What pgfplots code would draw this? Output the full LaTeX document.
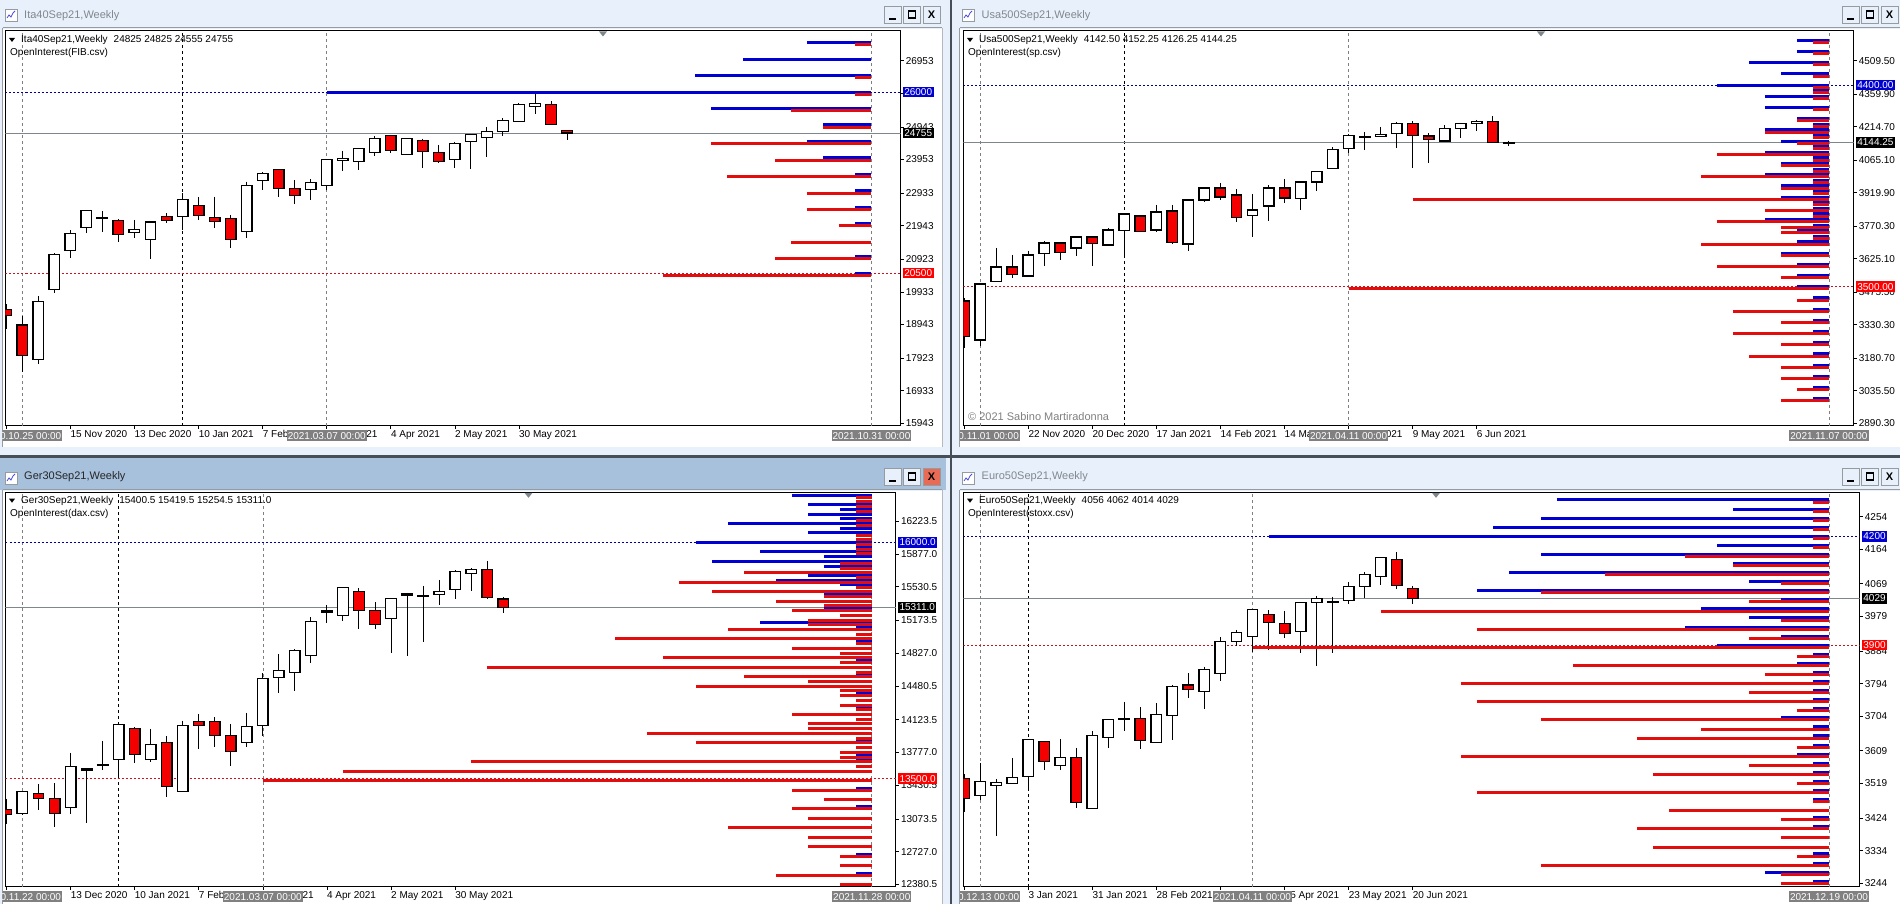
\documentclass[border=0pt]{standalone}
\usepackage{fontspec}
\setmainfont{Liberation Sans}
\usepackage{pgfplots}
\usepackage{pgfplotstable}
\pgfplotsset{compat=1.18}

\definecolor{chrome}{RGB}{232,240,252}
\definecolor{active}{RGB}{167,192,220}
\definecolor{frameg}{RGB}{150,155,160}
\definecolor{darkbar}{RGB}{70,78,88}
\definecolor{callblue}{RGB}{0,0,210}
\definecolor{putred}{RGB}{226,14,14}
\definecolor{candlered}{RGB}{245,0,0}
\definecolor{priceg}{RGB}{125,135,140}
\definecolor{taggray}{RGB}{128,128,128}
\definecolor{dotblue}{RGB}{0,0,150}
\definecolor{dotred}{RGB}{200,20,30}
\definecolor{titleg}{RGB}{130,135,140}

\newcommand\ten{\fontsize{10}{12}\selectfont}

\pgfplotsset{
  mt/.style={
    scale only axis, clip mode=individual, scaled y ticks=false,
    axis line style={black,line width=1pt},
    tick align=outside, major tick length=3pt,
    tick style={black,line width=.7pt},
    xtick pos=bottom, ytick pos=right, yticklabel pos=right,
    every tick label/.append style={font=\ten,black},
    x tick label style={anchor=north west,xshift=-1pt,yshift=-.5pt,inner sep=1pt},
    y tick label style={anchor=west,inner sep=1pt,xshift=1pt},
  },
  vg/.style={forget plot,draw=gray,line width=.7pt,dash pattern=on 3pt off 3pt},
  vk/.style={forget plot,draw=black,line width=.8pt,dash pattern=on 3pt off 3pt},
  px/.style={forget plot,draw=priceg,line width=1.1pt},
  db/.style={forget plot,draw=dotblue,line width=1pt,dash pattern=on 2pt off 2pt},
  dr/.style={forget plot,draw=dotred,line width=1pt,dash pattern=on 2pt off 2pt},
}

% candle: fill, i, open, high, low, close
\newcommand\candle[6]{%
\pgfmathsetmacro\xa{#2-.33}\pgfmathsetmacro\xb{#2+.33}%
\addplot[forget plot,draw=black,line width=1pt] coordinates {(#2,#4)(#2,#5)};
\addplot[forget plot,draw=black,fill=#1,line width=1.4pt] coordinates {(\xa,#3)(\xb,#3)(\xb,#6)(\xa,#6)} -- cycle;
}
\newcommand\bull[5]{\candle{white}{#1}{#2}{#3}{#4}{#5}}
\newcommand\bear[5]{\candle{candlered}{#1}{#2}{#3}{#4}{#5}}

% open interest: table, bar index of the right end, shift of the puts
\newcommand\oi[3]{%
\addplot[draw=none,mark=none,forget plot,error bars/.cd,x dir=minus,x explicit,error mark=none,error bar style={callblue,line width=3pt}] table[x expr=#2,y=k,x error=c] {#1};
\addplot[draw=none,mark=none,forget plot,error bars/.cd,x dir=minus,x explicit,error mark=none,error bar style={putred,line width=3pt}] table[x expr=#2,y expr=\thisrow{k}-#3,x error=p] {#1};
}

\tikzset{
  ptag/.style={inner xsep=1.5pt,inner ysep=0pt,minimum height=10.5pt,text=white,font=\ten,anchor=west},
  dtag/.style={fill=taggray,inner xsep=1pt,inner ysep=0pt,minimum height=10.5pt,text=white,font=\ten},
  ttl/.style={anchor=west,font=\fontsize{11}{13}\selectfont,inner sep=0pt},
  lgd/.style={anchor=west,font=\ten,inner sep=0pt,text=black},
}

\newcommand\winbtn[3]{% left, top, colour
  \draw[frameg,fill=#3,line width=.7pt] (#1,904-#2) rectangle ++(17,-17);}
\newcommand\buttons[3]{% left, top, colour of the last
  \winbtn{#1}{#2}{chrome}\winbtn{#1+19.5}{#2}{chrome}\winbtn{#1+39}{#2}{#3}
  \fill (#1+5,904-#2-12) rectangle ++(7,-2);
  \draw[line width=1.2pt] (#1+24.5,904-#2-5) rectangle ++(7,-7);
  \node[font=\fontsize{11}{11}\selectfont\bfseries,inner sep=0pt] at (#1+47.5,904-#2-8.5) {X};}
\newcommand\icon[2]{% left, top
  \draw[frameg,fill=white,line width=.6pt] (#1,904-#2) rectangle ++(12,-12);
  \draw[callblue!70,line width=.8pt] (#1+2,904-#2-9)--++(2,3)--++(2,-2)--++(2,4)--++(2,2);}
\newcommand\shiftmark[2]{% left, top
  \fill[priceg] (#1-4,904-#2) -- ++(8,0) -- ++(-4,-5) -- cycle;}

\pgfplotstableread{
k c p
27500 4 1
27000 8 0
26500 11 1
26000 34 1
25500 10 5
25000 3 3
24500 4 10
24000 3 6
23500 1 9
23000 1 4
22500 1 4
22000 1 2
21500 0 5
21000 1 6
20500 1 13
}\oiita

\pgfplotstableread{
k c p
4600 2 1
4550 2 1
4500 5 1
4450 3 1
4400 7 1
4375 1 1
4350 4 1
4300 4 1
4250 2 2
4225 1 1
4200 4 4
4175 1 1
4150 3 2
4125 1 1
4100 4 7
4075 1 1
4050 3 3
4025 1 1
4000 4 8
3975 1 1
3950 3 3
3925 1 1
3900 3 26
3875 1 1
3850 1 4
3825 1 1
3800 4 7
3775 1 3
3750 2 3
3725 1 1
3700 2 8
3650 3 3
3600 2 7
3550 2 3
3500 2 30
3450 1 2
3400 1 6
3350 1 3
3300 1 6
3250 1 3
3200 1 5
3150 1 3
3100 1 3
3050 1 2
3000 1 3
}\oiusa

\pgfplotstableread{
k c p
16500 5 1
16450 0 1
16400 4 1
16350 2 1
16300 4 0
16250 2 1
16200 9 1
16150 2 0
16100 4 1
16050 0 1
16000 11 1
15950 1 1
15900 7 1
15850 3 0
15800 10 2
15750 3 2
15700 0 8
15650 4 1
15600 6 12
15550 2 1
15500 0 10
15450 3 3
15400 0 6
15350 0 3
15300 3 5
15250 0 2
15200 0 4
15150 7 4
15100 1 9
15050 0 1
15000 0 16
14950 1 1
14900 0 5
14850 0 2
14800 0 13
14750 1 2
14700 0 24
14650 0 1
14600 1 8
14550 0 4
14500 0 11
14450 0 2
14400 1 2
14350 0 1
14300 0 2
14250 1 1
14200 0 5
14150 0 1
14100 0 4
14050 0 4
14000 0 14
13950 0 1
13900 1 11
13850 0 1
13800 0 2
13750 1 2
13700 1 25
13650 0 1
13600 0 33
13500 0 38
13400 1 5
13300 0 3
13200 1 5
13100 0 4
13000 0 9
12900 0 4
12800 0 4
12700 1 2
12600 0 2
12500 1 6
12400 0 2
}\oiger

\pgfplotstableread{
k c p
4300 17 1
4275 6 1
4250 18 1
4225 21 1
4200 35 1
4175 7 1
4150 18 9
4125 6 6
4100 20 14
4075 5 3
4050 22 18
4025 3 5
4000 8 28
3975 5 3
3950 9 22
3925 3 5
3900 7 36
3875 1 2
3850 2 16
3825 1 4
3800 1 23
3775 1 5
3750 1 22
3725 1 2
3700 3 18
3675 1 8
3650 1 12
3625 1 2
3600 2 23
3575 1 5
3550 1 11
3525 1 2
3500 1 22
3475 1 1
3450 0 10
3425 1 3
3400 1 12
3375 0 3
3350 0 11
3325 1 2
3300 1 18
3275 4 3
3250 1 3
}\oieur

\begin{document}
\begin{tikzpicture}[x=1pt,y=1pt]
\path[use as bounding box] (0,0) rectangle (1900,904);
\fill[chrome] (0,0) rectangle (1900,904);
% window clients
\fill[white] (3,904-29) rectangle (942,904-447);
\fill[white] (960,904-29) rectangle (1900,904-447);
\fill[active] (0,904-458) rectangle (946,904-490);
\fill[white] (3,904-491) rectangle (942,0);
\fill[white] (960,904-491) rectangle (1900,0);
\draw[frameg,line width=1pt] (3,904-28)--(942,904-28) (960,904-28)--(1900,904-28);
\draw[frameg,line width=1pt] (3,904-490)--(942,904-490) (960,904-490)--(1900,904-490);
\draw[frameg,line width=1pt] (2.5,904-28)--(2.5,904-447) (2.5,904-490)--(2.5,0) (959.5,904-28)--(959.5,904-447) (959.5,904-490)--(959.5,0);
\draw[frameg!70,line width=1pt] (942,904-28)--(942,904-447) (942,904-490)--(942,0);
\fill[darkbar] (0,904-455.5) rectangle (1900,904-458);
\fill[darkbar] (950,904) rectangle (952,0);

\icon{5}{9}\icon{962}{9}\icon{5}{472}\icon{962}{472}
\node[ttl,text=titleg] at (24,904-16) {Ita40Sep21,Weekly};
\node[ttl,text=titleg] at (981.5,904-16) {Usa500Sep21,Weekly};
\node[ttl,text=black!85] at (24,904-477) {Ger30Sep21,Weekly};
\node[ttl,text=titleg] at (981.5,904-477) {Euro50Sep21,Weekly};
\buttons{884}{6}{chrome}
\buttons{1842}{6}{chrome}
\buttons{884}{468}{red!55!brown!75}
\buttons{1842}{468}{chrome}

% ---------- Ita40
\begin{axis}[mt,at={(5.5pt,478pt)},anchor=south west,width=895.1pt,height=395pt,
  xmin=-0.05,xmax=55.82,ymin=15862,ymax=27854,
  xtick={0,4,8,12,16,20,24,28,32},
  xticklabels={,15 Nov 2020,13 Dec 2020,10 Jan 2021,7 Feb 2021,7 Mar 2021,4 Apr 2021,2 May 2021,30 May 2021},
  ytick={26953,25948,24943,23953,22933,21943,20923,19933,18943,17923,16933,15943},
  yticklabels={26953,25948,24943,23953,22933,21943,20923,19933,18943,17923,16933,15943}]
\addplot[vg] coordinates {(1,15862)(1,27854)};
\addplot[vk] coordinates {(11,15862)(11,27854)};
\addplot[vg] coordinates {(20,15862)(20,27854)};
\addplot[vg] coordinates {(54,15862)(54,27854)};
\addplot[px] coordinates {(-0.05,24755)(55.82,24755)};
\addplot[db] coordinates {(-0.05,26000)(55.82,26000)};
\addplot[dr] coordinates {(-0.05,20500)(55.82,20500)};
\bear{0}{19404}{19566}{18796}{19211}
\bear{1}{18928}{19201}{17511}{18000}
\bull{2}{17886}{19808}{17744}{19647}
\bull{3}{20011}{21104}{19910}{21073}
\bull{4}{21185}{21812}{20962}{21711}
\bull{5}{21883}{22409}{21711}{22409}
\bull{6}{22156}{22389}{21762}{22197}
\bear{7}{22106}{22146}{21458}{21681}
\bull{8}{21731}{22116}{21569}{21832}
\bull{9}{21529}{22055}{20932}{22055}
\bear{10}{22227}{22318}{22035}{22106}
\bull{11}{22217}{22925}{21812}{22743}
\bear{12}{22561}{22804}{22116}{22247}
\bear{13}{22197}{22824}{21873}{22065}
\bear{14}{22166}{22268}{21276}{21529}
\bull{15}{21772}{23280}{21579}{23158}
\bull{16}{23310}{23573}{23027}{23533}
\bear{17}{23654}{23654}{22824}{23067}
\bear{18}{23077}{23330}{22612}{22865}
\bull{19}{23037}{23350}{22723}{23249}
\bull{20}{23158}{23958}{23027}{23958}
\bull{21}{23917}{24211}{23604}{23988}
\bull{22}{23887}{24292}{23634}{24292}
\bull{23}{24160}{24666}{24069}{24595}
\bear{24}{24686}{24707}{24160}{24221}
\bull{25}{24099}{24595}{24099}{24595}
\bear{26}{24534}{24585}{23705}{24190}
\bear{27}{24170}{24393}{23836}{23887}
\bull{28}{23958}{24494}{23705}{24443}
\bull{29}{24504}{24707}{23664}{24707}
\bull{30}{24626}{24939}{24039}{24808}
\bull{31}{24808}{25202}{24676}{25142}
\bull{32}{25111}{25668}{25111}{25627}
\bull{33}{25567}{25931}{25344}{25658}
\bear{34}{25627}{25719}{25020}{25020}
\bear{35}{24825}{24825}{24555}{24755}
\oi{\oiita}{54}{65}
\coordinate (a1) at (axis cs:1,15862);
\coordinate (a2) at (axis cs:20,15862);
\coordinate (a3) at (axis cs:54,15862);
\coordinate (ab) at (axis cs:55.82,26000);
\coordinate (ak) at (axis cs:55.82,24755);
\coordinate (ar) at (axis cs:55.82,20500);
\end{axis}
\begin{scope}\clip (2.5,0) rectangle (950,904);
\node[dtag] at ([yshift=-9.7pt]a1) {2020.10.25 00:00};
\end{scope}
\node[dtag] at ([yshift=-9.7pt]a2) {2021.03.07 00:00};
\node[dtag] at ([yshift=-9.7pt]a3) {2021.10.31 00:00};
\node[ptag,fill=callblue] at ([xshift=2pt]ab) {26000};
\node[ptag,fill=black] at ([xshift=2pt]ak) {24755};
\node[ptag,fill=red] at ([xshift=2pt]ar) {20500};
\node[lgd] at (21,904-40) {Ita40Sep21,Weekly\hspace{6pt}24825 24825 24555 24755};
\node[lgd] at (10,904-52.7) {OpenInterest(FIB.csv)};
\fill (9,904-38) -- ++(6,0) -- ++(-3,-4) -- cycle;
\shiftmark{603}{31.5}

% ---------- Usa500
\begin{axis}[mt,at={(963.3pt,478pt)},anchor=south west,width=890.3pt,height=395pt,
  xmin=-0.06,xmax=55.54,ymin=2878.3,ymax=4641.8,
  xtick={0,4,8,12,16,20,24,28,32},
  xticklabels={,22 Nov 2020,20 Dec 2020,17 Jan 2021,14 Feb 2021,14 Mar 2021,11 Apr 2021,9 May 2021,6 Jun 2021},
  ytick={4509.5,4359.9,4214.7,4065.1,3919.9,3770.3,3625.1,3475.5,3330.3,3180.7,3035.5,2890.3},
  yticklabels={4509.50,4359.90,4214.70,4065.10,3919.90,3770.30,3625.10,3475.50,3330.30,3180.70,3035.50,2890.30}]
\addplot[vg] coordinates {(1,2878.3)(1,4641.8)};
\addplot[vk] coordinates {(10,2878.3)(10,4641.8)};
\addplot[vg] coordinates {(24,2878.3)(24,4641.8)};
\addplot[vg] coordinates {(54,2878.3)(54,4641.8)};
\addplot[px] coordinates {(-0.06,4144.25)(55.54,4144.25)};
\addplot[db] coordinates {(-0.06,4400)(55.54,4400)};
\addplot[dr] coordinates {(-0.06,3500)(55.54,3500)};
\bear{0}{3436.0}{3447.8}{3224.8}{3278.3}
\bull{1}{3262.0}{3511.8}{3233.7}{3511.8}
\bull{2}{3522.2}{3673.8}{3522.2}{3587.6}
\bear{3}{3587.6}{3642.6}{3538.5}{3554.9}
\bull{4}{3547.4}{3660.5}{3547.4}{3641.1}
\bull{5}{3648.6}{3702.1}{3593.5}{3694.6}
\bear{6}{3694.6}{3700.6}{3620.3}{3653.0}
\bull{7}{3672.3}{3727.4}{3635.2}{3721.4}
\bear{8}{3721.4}{3727.4}{3593.5}{3693.2}
\bull{9}{3685.7}{3760.1}{3681.3}{3754.1}
\bull{10}{3751.2}{3824.0}{3639.7}{3824.0}
\bear{11}{3815.1}{3821.0}{3746.7}{3746.7}
\bull{12}{3754.1}{3865.7}{3743.7}{3832.9}
\bear{13}{3837.4}{3865.7}{3690.2}{3697.6}
\bull{14}{3690.2}{3888.0}{3657.5}{3886.5}
\bull{15}{3888.0}{3940.0}{3880.5}{3940.0}
\bear{16}{3940.0}{3963.8}{3888.0}{3899.9}
\bear{17}{3908.8}{3935.5}{3786.9}{3809.2}
\bull{18}{3818.1}{3913.2}{3720.0}{3841.9}
\bull{19}{3859.7}{3953.4}{3794.3}{3940.0}
\bear{20}{3940.0}{3981.6}{3876.0}{3895.4}
\bull{21}{3893.9}{3966.8}{3843.4}{3966.8}
\bull{22}{3966.8}{4015.8}{3928.1}{4015.8}
\bull{23}{4027.7}{4122.9}{4026.2}{4113.9}
\bull{24}{4116.9}{4182.4}{4099.1}{4176.4}
\bull{25}{4166.0}{4189.8}{4111.0}{4169.0}
\bull{26}{4170.5}{4213.6}{4170.5}{4180.9}
\bull{27}{4185.3}{4235.9}{4119.9}{4230.0}
\bear{28}{4230.0}{4238.9}{4032.2}{4174.9}
\bear{29}{4173.4}{4185.3}{4053.0}{4158.6}
\bull{30}{4151.1}{4221.0}{4145.2}{4207.6}
\bull{31}{4207.6}{4232.9}{4164.5}{4230.0}
\bull{32}{4230.0}{4244.8}{4197.2}{4238.9}
\bear{33}{4238.9}{4261.2}{4145.2}{4145.2}
\bear{34}{4142.5}{4152.25}{4126.25}{4144.25}
\oi{\oiusa}{54}{10}
\coordinate (b1) at (axis cs:1,2878.3);
\coordinate (b2) at (axis cs:24,2878.3);
\coordinate (b3) at (axis cs:54,2878.3);
\coordinate (bb) at (axis cs:55.54,4400);
\coordinate (bk) at (axis cs:55.54,4144.25);
\coordinate (br) at (axis cs:55.54,3500);
\end{axis}
\begin{scope}\clip (960,0) rectangle (1900,904);
\node[dtag] at ([yshift=-9.7pt]b1) {2020.11.01 00:00};
\end{scope}
\node[dtag] at ([yshift=-9.7pt]b2) {2021.04.11 00:00};
\node[dtag] at ([yshift=-9.7pt]b3) {2021.11.07 00:00};
\node[ptag,fill=callblue] at ([xshift=2pt]bb) {4400.00};
\node[ptag,fill=black] at ([xshift=2pt]bk) {4144.25};
\node[ptag,fill=red] at ([xshift=2pt]br) {3500.00};
\node[lgd] at (979,904-40) {Usa500Sep21,Weekly\hspace{6pt}4142.50 4152.25 4126.25 4144.25};
\node[lgd] at (968,904-52.7) {OpenInterest(sp.csv)};
\fill (967,904-38) -- ++(6,0) -- ++(-3,-4) -- cycle;
\shiftmark{1541}{31.5}
\node[anchor=west,inner sep=0pt,text=gray,font=\fontsize{11}{13}\selectfont] at (968,904-417) {© 2021 Sabino Martiradonna};

% ---------- Ger30
\begin{axis}[mt,at={(5.5pt,17pt)},anchor=south west,width=890.3pt,height=394.7pt,
  xmin=-0.06,xmax=55.5,ymin=12352.3,ymax=16530.6,
  xtick={0,4,8,12,16,20,24,28},
  xticklabels={,13 Dec 2020,10 Jan 2021,7 Feb 2021,7 Mar 2021,4 Apr 2021,2 May 2021,30 May 2021},
  ytick={16223.5,15877,15530.5,15173.5,14827,14480.5,14123.5,13777,13430.5,13073.5,12727,12380.5},
  yticklabels={16223.5,15877.0,15530.5,15173.5,14827.0,14480.5,14123.5,13777.0,13430.5,13073.5,12727.0,12380.5}]
\addplot[vg] coordinates {(1,12352.3)(1,16530.6)};
\addplot[vk] coordinates {(7,12352.3)(7,16530.6)};
\addplot[vg] coordinates {(16,12352.3)(16,16530.6)};
\addplot[vg] coordinates {(54,12352.3)(54,16530.6)};
\addplot[px] coordinates {(-0.06,15311)(55.5,15311)};
\addplot[db] coordinates {(-0.06,16000)(55.5,16000)};
\addplot[dr] coordinates {(-0.06,13500)(55.5,13500)};
\bear{0}{13174.6}{13283.9}{13019.3}{13118.1}
\bull{1}{13132.2}{13365.1}{13118.1}{13365.1}
\bear{2}{13343.9}{13442.8}{13167.5}{13291.0}
\bear{3}{13291.0}{13449.8}{12991.1}{13132.2}
\bull{4}{13195.7}{13771.0}{13125.2}{13629.8}
\bull{5}{13587.5}{13612.2}{13033.4}{13601.6}
\bull{6}{13636.9}{13898.0}{13591.0}{13650.9}
\bull{7}{13703.9}{14074.4}{13520.4}{14074.4}
\bear{8}{14032.1}{14042.7}{13661.6}{13756.8}
\bull{9}{13703.9}{14025.0}{13679.2}{13862.7}
\bear{10}{13884.0}{13950.9}{13301.6}{13418.1}
\bull{11}{13365.1}{14113.3}{13365.1}{14063.9}
\bear{12}{14106.2}{14183.8}{13816.9}{14063.9}
\bear{13}{14106.2}{14148.6}{13838.0}{13957.9}
\bear{14}{13957.9}{14078.0}{13636.9}{13788.6}
\bull{15}{13884.0}{14194.4}{13838.0}{14053.3}
\bull{16}{14063.9}{14614.4}{13954.4}{14561.4}
\bull{17}{14568.5}{14819.0}{14409.7}{14646.1}
\bull{18}{14625.0}{14872.0}{14430.9}{14857.9}
\bull{19}{14805.0}{15207.2}{14727.3}{15164.9}
\bull{20}{15260.2}{15337.8}{15150.8}{15274.3}
\bull{21}{15224.9}{15524.8}{15171.9}{15524.8}
\bear{22}{15482.5}{15514.2}{15087.2}{15281.3}
\bear{23}{15281.3}{15369.5}{15087.2}{15129.6}
\bull{24}{15196.6}{15408.4}{14833.2}{15408.4}
\bull{25}{15443.7}{15464.8}{14797.9}{15454.2}
\bull{26}{15426.0}{15538.9}{14949.6}{15433.1}
\bull{27}{15450.7}{15602.4}{15337.8}{15482.5}
\bull{28}{15503.6}{15704.8}{15404.8}{15694.2}
\bull{29}{15673.0}{15726.0}{15489.5}{15715.4}
\bear{30}{15715.4}{15803.6}{15397.8}{15415.4}
\bear{31}{15400.5}{15419.5}{15254.5}{15311.0}
\oi{\oiger}{54}{22}
\coordinate (c1) at (axis cs:1,12352.3);
\coordinate (c2) at (axis cs:16,12352.3);
\coordinate (c3) at (axis cs:54,12352.3);
\coordinate (cb) at (axis cs:55.5,16000);
\coordinate (ck) at (axis cs:55.5,15311);
\coordinate (cr) at (axis cs:55.5,13500);
\end{axis}
\begin{scope}\clip (2.5,0) rectangle (950,904);
\node[dtag] at ([yshift=-9.7pt]c1) {2020.11.22 00:00};
\end{scope}
\node[dtag] at ([yshift=-9.7pt]c2) {2021.03.07 00:00};
\node[dtag] at ([yshift=-9.7pt]c3) {2021.11.28 00:00};
\node[ptag,fill=callblue] at ([xshift=2pt]cb) {16000.0};
\node[ptag,fill=black] at ([xshift=2pt]ck) {15311.0};
\node[ptag,fill=red] at ([xshift=2pt]cr) {13500.0};
\node[lgd] at (21,904-500.7) {Ger30Sep21,Weekly\hspace{6pt}15400.5 15419.5 15254.5 15311.0};
\node[lgd] at (10,904-514) {OpenInterest(dax.csv)};
\fill (9,904-498.7) -- ++(6,0) -- ++(-3,-4) -- cycle;
\shiftmark{528.5}{492.8}

% ---------- Euro50
\begin{axis}[mt,at={(963.3pt,17pt)},anchor=south west,width=896.4pt,height=394.7pt,
  xmin=-0.06,xmax=55.92,ymin=3233.9,ymax=4321.1,
  xtick={0,4,8,12,16,20,24,28},
  xticklabels={,3 Jan 2021,31 Jan 2021,28 Feb 2021,28 Mar 2021,25 Apr 2021,23 May 2021,20 Jun 2021},
  ytick={4254,4164,4069,3979,3884,3794,3704,3609,3519,3424,3334,3244},
  yticklabels={4254,4164,4069,3979,3884,3794,3704,3609,3519,3424,3334,3244}]
\addplot[vg] coordinates {(1,3233.9)(1,4321.1)};
\addplot[vk] coordinates {(4,3233.9)(4,4321.1)};
\addplot[vg] coordinates {(18,3233.9)(18,4321.1)};
\addplot[vg] coordinates {(54,3233.9)(54,4321.1)};
\addplot[px] coordinates {(-0.06,4029)(55.92,4029)};
\addplot[db] coordinates {(-0.06,4200)(55.92,4200)};
\addplot[dr] coordinates {(-0.06,3900)(55.92,3900)};
\bear{0}{3533.2}{3544.3}{3441.5}{3478.2}
\bull{1}{3485.5}{3574.6}{3473.6}{3525.0}
\bull{2}{3514.0}{3530.5}{3374.4}{3521.3}
\bull{3}{3519.5}{3588.3}{3519.5}{3536.0}
\bull{4}{3537.8}{3640.7}{3503.9}{3640.7}
\bear{5}{3635.2}{3635.2}{3556.2}{3579.2}
\bull{6}{3568.2}{3641.6}{3556.2}{3591.1}
\bear{7}{3591.1}{3616.8}{3451.6}{3466.2}
\bull{8}{3450.6}{3663.7}{3450.6}{3651.7}
\bull{9}{3646.2}{3695.8}{3616.8}{3695.8}
\bull{10}{3694.8}{3743.5}{3663.7}{3698.5}
\bear{11}{3698.5}{3728.8}{3614.1}{3637.0}
\bull{12}{3632.4}{3739.9}{3632.4}{3709.6}
\bull{13}{3705.9}{3790.4}{3638.9}{3786.7}
\bear{14}{3790.4}{3822.5}{3754.5}{3777.5}
\bull{15}{3772.0}{3840.8}{3724.2}{3833.5}
\bull{16}{3821.6}{3921.6}{3801.4}{3910.6}
\bull{17}{3909.7}{3941.8}{3898.7}{3935.4}
\bull{18}{3923.5}{3998.8}{3882.2}{3998.8}
\bear{19}{3985.0}{3997.0}{3886.8}{3962.0}
\bear{20}{3960.2}{3994.2}{3919.8}{3931.7}
\bull{21}{3937.3}{4018.1}{3877.6}{4018.1}
\bull{22}{4018.1}{4035.5}{3842.7}{4029.1}
\bull{23}{4017.2}{4033.7}{3877.6}{4020.8}
\bull{24}{4022.7}{4074.1}{4014.4}{4062.1}
\bull{25}{4061.2}{4100.7}{4029.1}{4095.2}
\bull{26}{4088.8}{4142.0}{4065.8}{4142.0}
\bear{27}{4136.5}{4156.7}{4054.8}{4064.9}
\bear{28}{4056}{4062}{4014}{4029}
\oi{\oieur}{54}{6}
\coordinate (d1) at (axis cs:1,3233.9);
\coordinate (d2) at (axis cs:18,3233.9);
\coordinate (d3) at (axis cs:54,3233.9);
\coordinate (db) at (axis cs:55.92,4200);
\coordinate (dk) at (axis cs:55.92,4029);
\coordinate (dr) at (axis cs:55.92,3900);
\end{axis}
\begin{scope}\clip (960,0) rectangle (1900,904);
\node[dtag] at ([yshift=-9.7pt]d1) {2020.12.13 00:00};
\end{scope}
\node[dtag] at ([yshift=-9.7pt]d2) {2021.04.11 00:00};
\node[dtag] at ([yshift=-9.7pt]d3) {2021.12.19 00:00};
\node[ptag,fill=callblue] at ([xshift=2pt]db) {4200};
\node[ptag,fill=black] at ([xshift=2pt]dk) {4029};
\node[ptag,fill=red] at ([xshift=2pt]dr) {3900};
\node[lgd] at (979,904-500.7) {Euro50Sep21,Weekly\hspace{6pt}4056 4062 4014 4029};
\node[lgd] at (968,904-514) {OpenInterest(stoxx.csv)};
\fill (967,904-498.7) -- ++(6,0) -- ++(-3,-4) -- cycle;
\shiftmark{1436}{492.8}
\end{tikzpicture}
\end{document}
